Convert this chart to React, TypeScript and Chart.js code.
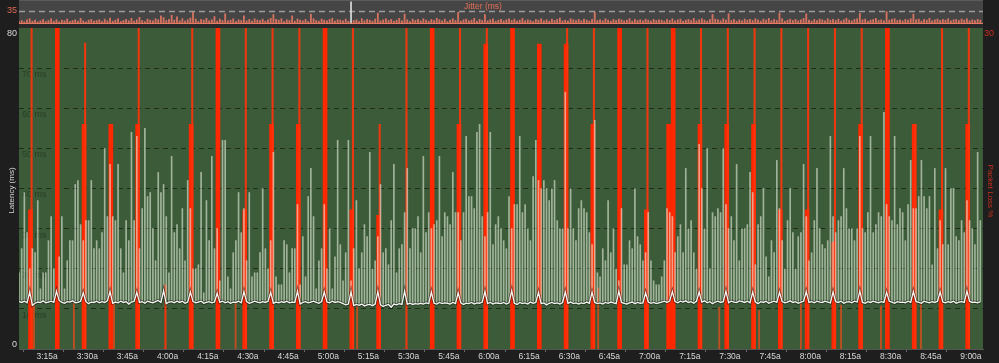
import React, { useEffect, useRef } from "react";
import { Chart, registerables } from "chart.js";

Chart.register(...registerables);

const FONT = '"Liberation Sans", Arial, Helvetica, sans-serif';

// x axis: minutes after 3:06a (0 .. 360)
const tickMinutes = [9, 24, 39, 54, 69, 84, 99, 114, 129, 144, 159, 174, 189, 204, 219, 234, 249, 264, 279, 294, 309, 324, 339, 354];
const tickLabels = ["3:15a", "3:30a", "3:45a", "4:00a", "4:15a", "4:30a", "4:45a", "5:00a", "5:15a", "5:30a", "5:45a", "6:00a", "6:15a", "6:30a", "6:45a", "7:00a", "7:15a", "7:30a", "7:45a", "8:00a", "8:15a", "8:30a", "8:45a", "9:00a"];

// latency average per minute (ms)
const latencyAvg = [
  11.8, 11.6, 11.9, 11.5, 14.2, 10.9, 11.4, 11.7, 11.6, 12.0, 11.5, 11.7, 11.9, 11.6, 14.4, 12.1, 11.6, 11.4, 11.8, 11.7, 12.0, 11.5, 11.6, 11.9, 14.0, 11.8, 11.3, 11.7, 11.6, 11.9,
  11.5, 11.8, 11.6, 12.0, 14.3, 11.4, 11.7, 11.5, 11.9, 11.6, 11.8, 11.2, 11.7, 11.9, 14.1, 11.6, 11.8, 11.4, 11.9, 11.7, 11.5, 11.8, 12.1, 11.6, 14.5, 11.3, 11.7, 11.8, 11.5, 11.9,
  11.6, 11.9, 11.4, 11.7, 14.2, 11.8, 11.5, 11.7, 11.9, 11.4, 11.6, 11.8, 11.5, 11.7, 13.9, 11.6, 11.9, 11.5, 11.8, 11.4, 11.7, 11.6, 11.9, 11.5, 14.3, 11.8, 11.4, 11.6, 11.9, 11.7,
  11.5, 11.8, 11.6, 11.9, 14.1, 11.4, 11.7, 11.5, 11.8, 11.6, 11.9, 11.5, 11.7, 11.6, 14.4, 11.2, 11.6, 11.8, 11.5, 11.7, 11.9, 11.6, 11.4, 11.8, 14.2, 11.7, 11.5, 11.9, 11.6, 11.8,
  11.6, 11.3, 11.0, 11.2, 14.2, 10.8, 11.1, 10.9, 11.2, 10.7, 11.0, 11.1, 10.8, 11.2, 14.3, 11.0, 10.6, 10.9, 11.1, 10.4, 11.2, 11.0, 11.3, 11.1, 14.4, 11.2, 11.4, 11.1, 11.3, 11.2,
  11.4, 11.2, 11.5, 11.3, 14.2, 11.4, 11.2, 11.6, 11.3, 11.5, 11.4, 11.2, 11.6, 11.3, 14.0, 11.5, 11.1, 11.4, 11.3, 11.6, 11.2, 11.5, 11.4, 11.7, 14.3, 11.3, 11.6, 11.2, 11.5, 11.4,
  11.3, 11.6, 11.2, 11.5, 14.5, 11.4, 11.1, 11.6, 11.3, 11.5, 11.2, 11.7, 11.4, 11.6, 14.1, 11.3, 11.5, 11.0, 11.4, 11.6, 11.3, 11.5, 11.2, 11.6, 14.2, 11.4, 11.7, 11.3, 11.5, 11.2,
  11.5, 11.3, 11.7, 11.4, 14.1, 11.6, 11.3, 11.5, 11.2, 11.6, 11.4, 11.7, 11.5, 11.3, 14.4, 11.6, 11.4, 11.2, 11.5, 11.7, 11.3, 11.6, 11.4, 11.5, 14.0, 11.7, 11.4, 11.6, 11.3, 11.5,
  11.7, 11.9, 11.6, 12.0, 14.3, 11.8, 11.5, 11.9, 11.7, 12.0, 11.6, 11.8, 11.4, 11.9, 14.2, 11.7, 12.0, 11.5, 11.8, 11.3, 11.7, 11.9, 11.6, 11.8, 14.4, 11.5, 11.9, 11.7, 11.6, 12.0,
  11.8, 11.6, 11.9, 11.5, 14.2, 11.7, 11.3, 11.8, 11.6, 11.9, 11.4, 11.7, 11.9, 11.6, 14.1, 11.8, 11.5, 11.7, 12.0, 11.6, 11.8, 11.4, 11.7, 11.9, 14.3, 11.6, 11.8, 11.5, 11.9, 11.7,
  11.6, 11.9, 11.7, 11.5, 14.2, 11.8, 11.6, 11.9, 11.4, 11.7, 11.8, 11.5, 11.9, 11.7, 14.4, 11.6, 11.4, 11.8, 11.6, 11.9, 11.7, 11.5, 11.8, 11.6, 14.1, 11.9, 11.7, 11.4, 11.8, 11.6,
  11.7, 11.5, 11.9, 11.6, 14.3, 11.8, 11.6, 11.4, 11.9, 11.7, 11.5, 11.8, 11.6, 11.9, 14.2, 11.7, 11.5, 11.8, 11.6, 11.9, 11.4, 11.7, 11.8, 11.6, 14.4, 11.9, 11.6, 11.7, 11.5, 11.8,
];

// latency maximum per minute (ms)
const latencyMax = [
  19, 25, 39, 29, 20, 25, 24, 37, 15, 19, 19, 27, 33, 20, 15, 23, 33, 15, 22, 27, 27, 41, 42, 31, 27, 32, 32, 42, 25, 27,
  25, 29, 50, 33, 46, 33, 32, 46, 25, 19, 32, 27, 54, 32, 53, 25, 35, 55, 38, 39, 30, 22, 44, 39, 41, 33, 19, 48, 29, 31,
  25, 35, 22, 42, 35, 20, 20, 21, 44, 14, 37, 27, 48, 25, 30, 17, 52, 52, 18, 15, 24, 27, 39, 29, 35, 22, 39, 18, 19, 19,
  24, 40, 25, 20, 27, 49, 18, 16, 16, 27, 26, 19, 25, 25, 36, 16, 28, 18, 38, 45, 33, 15, 22, 25, 36, 20, 30, 15, 23, 52,
  26, 17, 24, 52, 17, 25, 37, 20, 24, 31, 28, 49, 20, 22, 28, 41, 24, 25, 21, 32, 46, 19, 25, 26, 34, 45, 25, 30, 30, 33,
  24, 48, 29, 34, 30, 31, 32, 48, 28, 34, 33, 31, 44, 34, 34, 27, 34, 53, 38, 38, 35, 54, 56, 33, 28, 34, 54, 26, 31, 33,
  30, 27, 25, 38, 30, 36, 36, 53, 34, 36, 30, 27, 43, 52, 42, 40, 42, 40, 37, 40, 42, 32, 30, 30, 64, 30, 40, 30, 27, 35,
  37, 35, 34, 29, 26, 57, 19, 18, 25, 22, 37, 24, 30, 20, 17, 35, 21, 21, 27, 25, 40, 28, 26, 22, 24, 34, 22, 17, 16, 16,
  18, 22, 35, 34, 33, 24, 28, 31, 24, 45, 30, 32, 24, 20, 51, 40, 30, 50, 20, 34, 33, 35, 34, 50, 36, 30, 33, 27, 46, 22,
  30, 30, 31, 44, 39, 21, 31, 33, 40, 23, 18, 27, 24, 47, 35, 27, 20, 32, 40, 29, 20, 28, 29, 46, 33, 22, 24, 32, 45, 30,
  26, 25, 27, 53, 33, 29, 32, 33, 45, 35, 30, 30, 27, 30, 53, 30, 29, 34, 53, 29, 31, 34, 33, 59, 36, 33, 32, 53, 31, 35,
  34, 27, 36, 47, 35, 35, 38, 47, 38, 35, 38, 21, 45, 25, 32, 26, 45, 26, 40, 40, 28, 27, 32, 29, 37, 32, 30, 26, 49, 32,
];

// jitter per minute (ms)
const jitter = [
  4, 7, 3, 9, 12, 5, 8, 3, 6, 10, 4, 7, 12, 5, 9, 3, 8, 6, 11, 4, 7, 9, 5, 13, 6, 3, 8, 10, 5, 7,
  9, 4, 11, 6, 14, 5, 8, 12, 4, 7, 10, 6, 13, 5, 9, 16, 7, 4, 11, 8, 6, 12, 9, 20, 15, 7, 10, 22, 8, 17,
  6, 12, 5, 9, 14, 30, 11, 4, 10, 8, 13, 6, 9, 18, 5, 11, 7, 26, 6, 8, 12, 4, 9, 7, 20, 6, 10, 5, 12, 8,
  7, 11, 5, 9, 13, 24, 10, 8, 12, 4, 9, 7, 20, 5, 11, 8, 6, 10, 4, 25, 12, 7, 5, 11, 8, 6, 10, 13, 5, 9,
  8, 6, 11, 5, 60, 7, 9, 4, 12, 6, 10, 8, 5, 11, 28, 6, 9, 12, 7, 10, 5, 8, 13, 6, 25, 9, 4, 11, 7, 10,
  6, 12, 8, 5, 10, 7, 13, 9, 6, 11, 4, 8, 12, 7, 30, 5, 9, 11, 6, 8, 13, 5, 10, 7, 24, 6, 9, 12, 5, 8,
  10, 6, 9, 12, 7, 11, 5, 8, 13, 6, 9, 7, 4, 10, 8, 12, 6, 9, 5, 11, 7, 10, 14, 6, 8, 5, 12, 9, 7, 10,
  6, 11, 8, 5, 10, 31, 7, 9, 6, 12, 8, 5, 10, 7, 11, 9, 6, 8, 12, 5, 10, 7, 9, 6, 11, 8, 5, 10, 7, 9,
  8, 5, 10, 7, 12, 6, 9, 11, 5, 8, 10, 7, 13, 6, 9, 12, 8, 5, 10, 24, 11, 9, 6, 12, 8, 26, 7, 10, 5, 9,
  6, 11, 8, 10, 7, 12, 9, 5, 11, 8, 13, 6, 10, 7, 28, 12, 5, 8, 11, 7, 10, 6, 9, 13, 26, 8, 5, 10, 7, 11,
  9, 6, 12, 8, 10, 7, 11, 5, 9, 13, 8, 6, 10, 12, 27, 9, 11, 5, 8, 10, 13, 7, 9, 6, 32, 8, 10, 12, 7, 9,
  6, 10, 8, 12, 25, 9, 11, 5, 10, 8, 13, 6, 9, 11, 7, 10, 8, 12, 6, 9, 10, 7, 11, 8, 12, 6, 9, 7, 10, 8,
];

// packet loss bursts (minutes after 3:06a, %)
const lossTimes = [
  4.3, 14.3, 24.3, 34.3, 44.3, 54.3, 64.3, 74.3, 84.3, 94.3, 104.3, 114.3,
  124.3, 134.3, 144.3, 154.3, 164.3, 174.3, 184.3, 194.3, 204.3, 214.3, 224.3, 234.3,
  244.3, 254.3, 264.3, 274.3, 284.3, 294.3, 304.3, 314.3, 324.3, 334.3, 344.3, 354.3, 242.6,
];
const lossMain = [
  13, 30, 21, 21, 21, 0, 21, 30, 13, 21, 21, 30,
  13, 12.5, 0, 30, 21, 28.5, 30, 28.5, 28.5, 21, 30, 13,
  30, 21, 21, 21, 13, 13, 10, 21, 30, 21, 13, 21, 21,
];
const lossPeak = [
  30, 0, 28.6, 0, 30, 6, 30, 0, 30, 30, 30, 0,
  30, 21, 30, 0, 30, 30, 0, 0, 30, 30, 0, 30,
  0, 30, 30, 30, 30, 30, 30, 30, 0, 21, 30, 30, 0,
];
const minorLossTimes = [5.6, 20.5, 35.5, 80.9, 126.3, 216.3, 261.5, 276.4, 292, 307, 321.9, 336.8];
const minorLoss = [4.3, 4.3, 4.3, 4.3, 4.0, 5.7, 3.9, 3.6, 4.3, 4.1, 4.0, 4.3];

const gridMs = [10, 20, 30, 40, 50, 60, 70];

const W = 999;
const H = 363;
const STRIP_H = 24;

export default function App() {
  const mainRef = useRef<HTMLCanvasElement | null>(null);
  const stripRef = useRef<HTMLCanvasElement | null>(null);

  useEffect(() => {
    if (!mainRef.current || !stripRef.current) return;

    const mainDecor = {
      id: "mainDecor",
      beforeDraw(chart: any) {
        const { ctx, chartArea: a } = chart;
        ctx.save();
        ctx.fillStyle = "#2a2a2a";
        ctx.fillRect(a.left, a.top - 4, a.right - a.left, 4);
        ctx.fillStyle = "#3c5b38";
        ctx.fillRect(a.left, a.top, a.right - a.left, a.bottom - a.top);
        ctx.restore();
      },
      beforeDatasetsDraw(chart: any) {
        const { ctx, chartArea: a } = chart;
        const y = chart.scales.y;
        ctx.save();
        ctx.font = `9px ${FONT}`;
        ctx.fillStyle = "rgba(0,0,0,0.33)";
        ctx.textAlign = "left";
        ctx.textBaseline = "top";
        gridMs.forEach((v) => ctx.fillText(`${v} ms`, a.left + 3, y.getPixelForValue(v) + 2));
        ctx.restore();
      },
      afterDraw(chart: any) {
        const { ctx, chartArea: a } = chart;
        ctx.save();
        ctx.font = `9px ${FONT}`;
        ctx.fillStyle = "#d8d8d8";
        ctx.textAlign = "right";
        ctx.textBaseline = "middle";
        ctx.fillText("80", 17, a.top + 6);
        ctx.fillText("0", 17, a.bottom - 4);
        ctx.font = `8px ${FONT}`;
        ctx.save();
        ctx.translate(12, (a.top + a.bottom) / 2 + 2);
        ctx.rotate(-Math.PI / 2);
        ctx.textAlign = "center";
        ctx.fillText("Latency (ms)", 0, 0);
        ctx.restore();
        ctx.fillStyle = "#c8301c";
        ctx.font = `9px ${FONT}`;
        ctx.textAlign = "left";
        ctx.fillText("30", a.right + 1, a.top + 6);
        ctx.font = `8px ${FONT}`;
        ctx.save();
        ctx.translate(990, 191);
        ctx.rotate(Math.PI / 2);
        ctx.textAlign = "center";
        ctx.fillText("Packet Loss %", 0, 0);
        ctx.restore();
        ctx.restore();
      },
    };

    const main = new Chart(mainRef.current, {
      type: "bar",
      data: {
        datasets: [
          {
            type: "line",
            label: "Latency avg",
            data: latencyAvg.map((v, i) => ({ x: i, y: v })),
            borderColor: "#f4f7f2",
            borderWidth: 1.3,
            pointRadius: 0,
            tension: 0,
            yAxisID: "y",
            order: 0,
          } as any,
          {
            type: "line",
            label: "Latency avg shadow",
            data: latencyAvg.map((v, i) => ({ x: i, y: v })),
            borderColor: "rgba(0,0,0,0.45)",
            borderWidth: 3,
            pointRadius: 0,
            tension: 0,
            yAxisID: "y",
            order: 1,
          } as any,
          {
            label: "Latency max",
            data: latencyMax.map((v, i) => ({ x: i, y: [latencyAvg[i], v] })),
            backgroundColor: "rgba(228,240,222,0.6)",
            barThickness: 1,
            yAxisID: "y",
            order: 2,
          } as any,
          {
            label: "Loss peak",
            data: lossTimes.map((t, i) => ({ x: t + 0.4, y: lossPeak[i] })),
            backgroundColor: "rgba(255,52,12,0.92)",
            barThickness: 1.4,
            yAxisID: "y2",
            order: 3,
          } as any,
          {
            label: "Loss minor",
            data: minorLossTimes.map((t, i) => ({ x: t, y: minorLoss[i] })),
            backgroundColor: "rgba(214,78,28,0.85)",
            barThickness: 1.2,
            yAxisID: "y2",
            order: 3,
          } as any,
          {
            label: "Loss",
            data: lossTimes.map((t, i) => ({ x: t, y: lossMain[i] })),
            backgroundColor: "#ff2800",
            barThickness: 4,
            yAxisID: "y2",
            order: 4,
          } as any,
        ],
      },
      options: {
        responsive: false,
        animation: false,
        devicePixelRatio: 1,
        events: [],
        layout: { padding: { top: 28, left: 0, right: 0, bottom: 0 } },
        datasets: { bar: { grouped: false } } as any,
        plugins: { legend: { display: false }, tooltip: { enabled: false } },
        scales: {
          x: {
            type: "linear",
            min: 0,
            max: 360,
            offset: false,
            grid: { drawOnChartArea: false, drawTicks: true, tickLength: 3, color: "#6a6a6a" },
            border: { display: true, color: "#555" },
            ticks: {
              autoSkip: false,
              maxRotation: 0,
              padding: 0,
              labelOffset: 4,
              color: "#d8d8d8",
              font: { size: 8.5, family: FONT },
              callback: (v: any) => {
                const idx = tickMinutes.indexOf(Number(v));
                return idx >= 0 ? tickLabels[idx] : "";
              },
            },
            afterBuildTicks: (scale: any) => {
              scale.ticks = tickMinutes.map((v) => ({ value: v }));
            },
            afterFit: (scale: any) => {
              scale.height = 14;
            },
          },
          y: {
            position: "left",
            min: 0,
            max: 80,
            ticks: { display: false, stepSize: 10 },
            grid: {
              drawTicks: false,
              lineWidth: 1,
              color: (c: any) => (c.tick && (c.tick.value === 0 || c.tick.value === 80) ? "rgba(0,0,0,0)" : "rgba(0,0,0,0.5)"),
            },
            border: { display: false, dash: [5, 4] },
            afterFit: (scale: any) => {
              scale.width = 19;
            },
          },
          y2: {
            position: "right",
            min: 0,
            max: 30,
            ticks: { display: false },
            grid: { display: false, drawTicks: false },
            border: { display: false },
            afterFit: (scale: any) => {
              scale.width = 16;
            },
          },
        },
      } as any,
      plugins: [mainDecor],
    });

    const stripDecor = {
      id: "stripDecor",
      beforeDraw(chart: any) {
        const { ctx, chartArea: a } = chart;
        ctx.save();
        ctx.fillStyle = "#454545";
        ctx.fillRect(a.left, a.top, a.right - a.left, a.bottom - a.top);
        ctx.fillStyle = "#5a5a5a";
        ctx.fillRect(a.left, a.top, a.right - a.left, 1);
        ctx.restore();
      },
      beforeDatasetsDraw(chart: any) {
        const { ctx, chartArea: a } = chart;
        const y = chart.scales.y;
        ctx.save();
        const y35 = Math.round(y.getPixelForValue(35)) + 0.5;
        ctx.strokeStyle = "#9c9c9c";
        ctx.lineWidth = 1.5;
        ctx.setLineDash([6, 4]);
        ctx.beginPath();
        ctx.moveTo(a.left, y35);
        ctx.lineTo(a.right, y35);
        ctx.stroke();
        ctx.setLineDash([]);
        const y0 = Math.round(y.getPixelForValue(0)) + 0.5;
        ctx.strokeStyle = "#e87a62";
        ctx.lineWidth = 1;
        ctx.beginPath();
        ctx.moveTo(a.left, y0);
        ctx.lineTo(a.right, y0);
        ctx.stroke();
        ctx.restore();
      },
      afterDraw(chart: any) {
        const { ctx } = chart;
        const y = chart.scales.y;
        ctx.save();
        ctx.font = `9px ${FONT}`;
        ctx.fillStyle = "#e06a52";
        ctx.textAlign = "right";
        ctx.textBaseline = "middle";
        ctx.fillText("35", 17, y.getPixelForValue(35));
        ctx.font = `8.5px ${FONT}`;
        ctx.textAlign = "center";
        ctx.fillStyle = "#e56f56";
        ctx.fillText("Jitter (ms)", 483, 6.5);
        ctx.restore();
      },
    };

    const strip = new Chart(stripRef.current, {
      type: "bar",
      data: {
        datasets: [
          {
            label: "Jitter",
            data: jitter.map((v, i) => ({ x: i, y: v })),
            backgroundColor: (c: any) => (c.raw && c.raw.y > 50 ? "rgba(220,220,220,0.9)" : "rgba(236,122,100,0.85)"),
            barThickness: 1.2,
          } as any,
        ],
      },
      options: {
        responsive: false,
        animation: false,
        devicePixelRatio: 1,
        events: [],
        layout: { padding: { top: 0, left: 19, right: 16, bottom: 0 } },
        plugins: { legend: { display: false }, tooltip: { enabled: false } },
        scales: {
          x: { type: "linear", min: 0, max: 360, offset: false, display: false },
          y: { min: -3, max: 65, display: false },
        },
      } as any,
      plugins: [stripDecor],
    });

    return () => {
      main.destroy();
      strip.destroy();
    };
  }, []);

  return (
    <div
      style={{
        position: "fixed",
        left: 0,
        top: 0,
        width: W,
        height: H,
        background: "#1e1e1e",
        overflow: "hidden",
      }}
    >
      <canvas
        ref={mainRef}
        width={W}
        height={H}
        style={{ position: "absolute", left: 0, top: 0, width: W, height: H }}
      />
      <canvas
        ref={stripRef}
        width={W}
        height={STRIP_H}
        style={{ position: "absolute", left: 0, top: 0, width: W, height: STRIP_H }}
      />
    </div>
  );
}
